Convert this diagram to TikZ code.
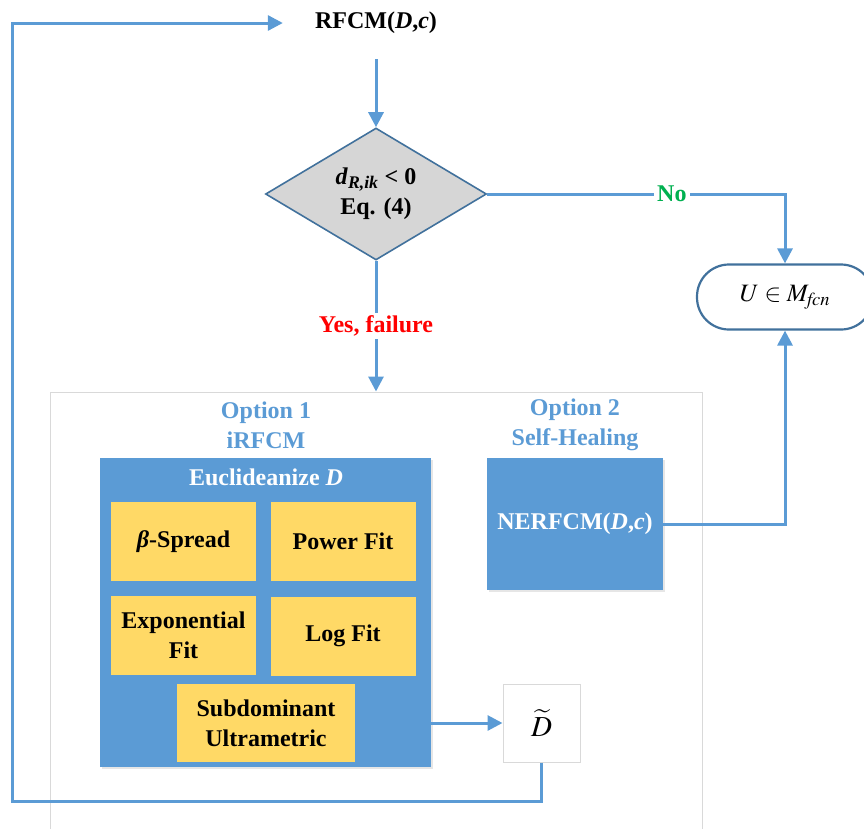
\documentclass[tikz,border=0pt]{standalone}
\usepackage{mathptmx}
\usepackage{fontspec}
\setmainfont{Liberation Serif}
\usetikzlibrary{shapes.geometric,arrows.meta,shadows}

\definecolor{linkblue}{HTML}{5B9BD5}
\definecolor{edgeblue}{HTML}{41719C}
\definecolor{boxblue}{HTML}{5B9BD5}
\definecolor{boxyellow}{HTML}{FFD966}
\definecolor{lightgrey}{HTML}{D9D9D9}
\definecolor{diagrey}{HTML}{D6D6D6}
\definecolor{okgreen}{HTML}{00B050}

\tikzset{
  conn/.style={draw=linkblue, line width=3pt, -{Triangle[length=15pt,width=15pt]}},
  plain/.style={font=\fontsize{24}{30}\selectfont\bfseries, align=center, inner sep=1pt},
  bluebox/.style={fill=boxblue, draw=none, inner sep=0pt,
    drop shadow={opacity=0.2, shadow xshift=2pt, shadow yshift=-2pt}},
  yellowbox/.style={fill=boxyellow, draw=none, inner sep=2pt, align=center,
    font=\fontsize{24}{30}\selectfont\bfseries, minimum width=145pt, minimum height=79pt},
  labelbg/.style={fill=white, inner sep=3pt, font=\fontsize{24}{30}\selectfont\bfseries},
}

\begin{document}
\begin{tikzpicture}[x=1pt,y=-1pt]
\useasboundingbox (0,0) rectangle (864,828);

% outer frame holding the two options
\node[draw=lightgrey, line width=1pt, minimum width=652pt, minimum height=460pt,
      inner sep=0pt] (frame) at (376,622) {};

% top of the loop
\node[plain] (rfcm) at (376,23) {RFCM(\textit{D},\textit{c})};

% decision
\node[diamond, draw=edgeblue, line width=1.6pt, fill=diagrey, aspect=1.674,
      minimum width=221pt, minimum height=132pt, inner sep=0pt, plain]
      (dia) at (376,194) {\textit{d}\textsubscript{\textit{R,ik}} {\normalfont\bfseries<} 0\\Eq. (4)};

% terminal
\node[draw=edgeblue, line width=2.2pt, rounded corners=32pt, minimum width=176pt,
      minimum height=65pt, fill=white, inner sep=0pt,
      font=\fontsize{25}{30}\selectfont] (term) at (785,297) {$U\in M_{\mathit{fcn}}$};

% option headings
\node[plain, text=linkblue] (opt1) at (266,425) {Option 1\\iRFCM};
\node[plain, text=linkblue] (opt2) at (575,425) {Option 2\\Self-Healing};

% option 1: Euclideanize
\node[bluebox, minimum width=331pt, minimum height=309pt] (euc) at (265.5,612.5) {};
\node[plain, text=white] (euctitle) at (266,477) {Euclideanize \textit{D}};
\node[yellowbox] (beta) at (183.5,541.5) {\textit{β}-Spread};
\node[yellowbox] (power) at (343,541.5) {Power Fit};
\node[yellowbox] (expo) at (183.5,635.5) {Exponential\\Fit};
\node[yellowbox] (logf) at (343,636) {Log Fit};
\node[yellowbox, minimum width=178pt, minimum height=78pt] (subdom) at (266,723) {Subdominant\\Ultrametric};

% option 2: NERFCM
\node[bluebox, minimum width=176pt, minimum height=132pt, text=white,
      font=\fontsize{24}{30}\selectfont\bfseries] (ner) at (575,524) {NERFCM(\textit{D},\textit{c})};

% Euclideanized matrix
\node[draw=lightgrey, line width=1pt, fill=white, minimum width=77pt, minimum height=78pt,
      inner sep=0pt, font=\fontsize{29}{32}\selectfont] (dt) at (541.5,723) {$\widetilde{D}$};

% connectors
\draw[conn, shorten <=24pt] (rfcm.south) -- (dia.north);
\draw[conn] (dia.east) -| node[labelbg, text=okgreen, pos=0.31] {No} (term.north);
\draw[conn] (dia.south) -- node[labelbg, text=red, pos=0.5] {Yes, failure} (frame.north);
\draw[conn] (ner.east) -| (term.south);
\draw[conn] (euc.east |- dt.west) -- (dt.west);
\draw[conn, shorten >=31pt] (dt.south) |- (12,801) |- (rfcm.west);
\end{tikzpicture}
\end{document}
